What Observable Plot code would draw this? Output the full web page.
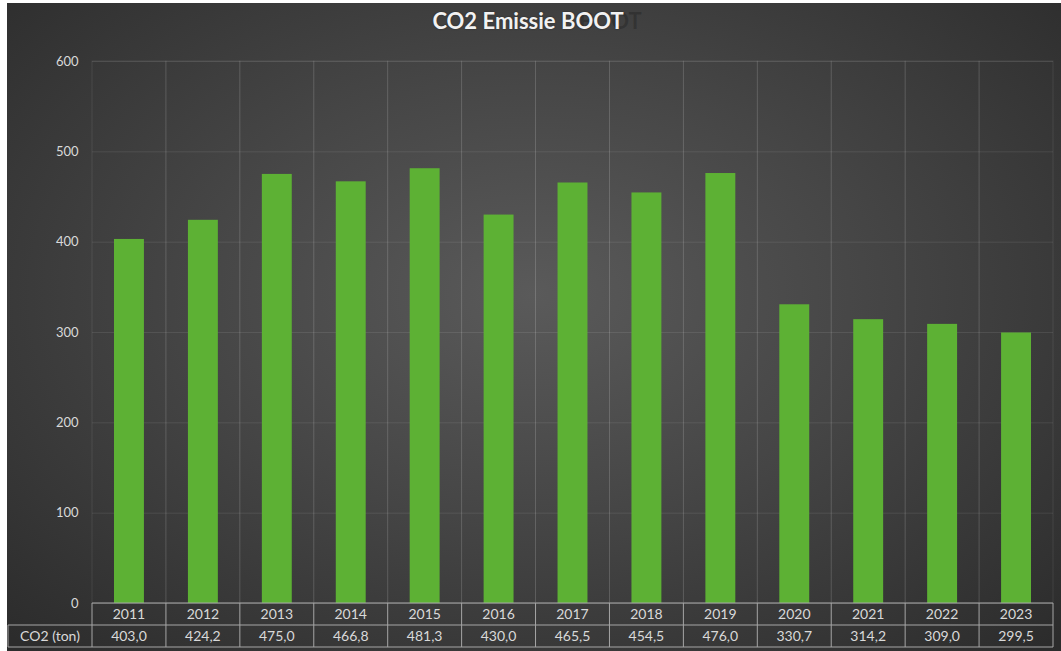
<!DOCTYPE html>
<html>
<head>
<meta charset="utf-8">
<script src="https://cdn.jsdelivr.net/npm/d3@7"></script>
<script src="https://cdn.jsdelivr.net/npm/@observablehq/plot@0.6"></script>
<style>
  html, body { margin: 0; padding: 0; background: #ffffff; }
  #wrap {
    position: absolute; left: 7px; top: 3px; width: 1054px; height: 648px;
    background: radial-gradient(ellipse 70% 75% at 50% 45%, #5a5a5a 0%, #464646 45%, #2c2c2c 100%);
    overflow: hidden;
    font-family: Lato, "Open Sans", sans-serif;
  }
  #title, #ghost {
    position: absolute; left: -6px; width: 100%; top: 4px; text-align: center;
    font-size: 22px; font-weight: bold;
  }
  #title { color: #f2f2f2; z-index: 2; text-shadow: 0 0 2px rgba(0,0,0,0.4); }
  #ghost { color: rgba(20,20,20,0.3); z-index: 1; transform: translateX(18px); }
  #chart { position: absolute; left: 0; top: 0; }
</style>
</head>
<body>
<div id="wrap">
  <div id="ghost"><span style="visibility:hidden">CO2 Emissie </span>BOOT</div>
  <div id="title">CO2 Emissie BOOT</div>
  <div id="chart"></div>
</div>
<script>
const years = ["2011","2012","2013","2014","2015","2016","2017","2018","2019","2020","2021","2022","2023"];
const co2 = [403.0, 424.2, 475.0, 466.8, 481.3, 430.0, 465.5, 454.5, 476.0, 330.7, 314.2, 309.0, 299.5];
const yTicks = [0, 100, 200, 300, 400, 500, 600];
const seriesLabel = "CO2 (ton)";

const data = years.map((y, i) => ({year: y, value: co2[i]}));
const fmt = v => v.toFixed(1).replace(".", ",");

const W = 1054, H = 648;
const gridColor = "rgba(255,255,255,0.09)";
const textColor = "#d9d9d9";
const lineColor = "#a6a6a6";

const plot = Plot.plot({
  width: W, height: H,
  marginLeft: 85, marginRight: 8, marginTop: 58, marginBottom: 48,
  style: {background: "transparent", color: textColor, fontFamily: "Lato, 'Open Sans', sans-serif", fontSize: "13px", overflow: "visible"},
  x: {domain: years, padding: 0, round: false, axis: null},
  y: {domain: [0, 600], axis: null},
  marks: [
    Plot.ruleY(yTicks, {stroke: gridColor, strokeWidth: 1}),
    Plot.barY(data, {x: "year", y1: 0, y2: 600, fill: "none", stroke: gridColor, strokeWidth: 1}),
    Plot.barY(data, {x: "year", y: "value", fill: "#5db134", insetLeft: 22, insetRight: 22}),
    Plot.axisY({ticks: yTicks, tickSize: 0, tickPadding: 14, fill: textColor, fontSize: 13, label: null, tickFormat: d => String(d)})
  ]
});
document.getElementById("chart").appendChild(plot);

// data table under the chart, positioned with the plot's own x scale
const xs = plot.scale("x");
const bw = xs.bandwidth;
const svg = d3.select(plot);
const yTop = H - 48, rowH = 22;
const x0 = xs.apply(years[0]);
const xEnd = xs.apply(years[years.length - 1]) + bw;
const labelLeft = 1;
const g = svg.append("g");

g.append("line").attr("x1", x0).attr("x2", xEnd).attr("y1", yTop).attr("y2", yTop).attr("stroke", lineColor);
g.append("line").attr("x1", labelLeft).attr("x2", xEnd).attr("y1", yTop + rowH).attr("y2", yTop + rowH).attr("stroke", lineColor);
g.append("line").attr("x1", labelLeft).attr("x2", xEnd).attr("y1", yTop + 2*rowH).attr("y2", yTop + 2*rowH).attr("stroke", lineColor);
g.append("line").attr("x1", labelLeft).attr("x2", labelLeft).attr("y1", yTop + rowH).attr("y2", yTop + 2*rowH).attr("stroke", lineColor);
years.forEach(y => {
  const xl = xs.apply(y);
  g.append("line").attr("x1", xl).attr("x2", xl).attr("y1", yTop).attr("y2", yTop + 2*rowH).attr("stroke", lineColor);
});
g.append("line").attr("x1", xEnd).attr("x2", xEnd).attr("y1", yTop).attr("y2", yTop + 2*rowH).attr("stroke", lineColor);

data.forEach(d => {
  const cx = xs.apply(d.year) + bw / 2;
  g.append("text").attr("x", cx).attr("y", yTop + rowH/2).attr("dy", "0.35em")
    .attr("text-anchor", "middle").attr("fill", textColor).attr("font-size", 14).text(d.year);
  g.append("text").attr("x", cx).attr("y", yTop + rowH*1.5).attr("dy", "0.35em")
    .attr("text-anchor", "middle").attr("fill", textColor).attr("font-size", 14).text(fmt(d.value));
});
g.append("text").attr("x", (labelLeft + x0)/2).attr("y", yTop + rowH*1.5).attr("dy", "0.35em")
  .attr("text-anchor", "middle").attr("fill", textColor).attr("font-size", 14).text(seriesLabel);
</script>
</body>
</html>
